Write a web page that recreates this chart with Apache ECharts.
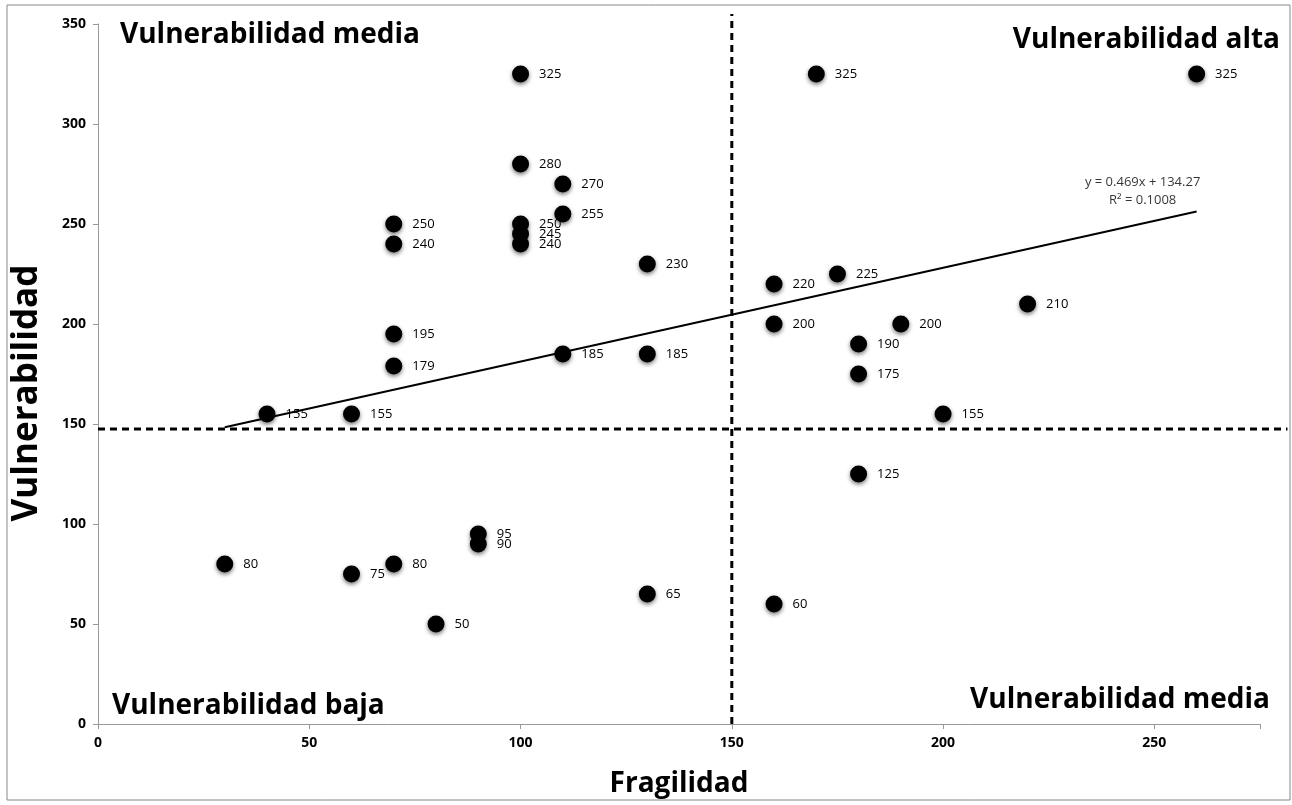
<!DOCTYPE html>
<html><head><meta charset="utf-8">
<script src="https://cdn.jsdelivr.net/npm/echarts@6/dist/echarts.min.js"></script>
<style>html,body{margin:0;padding:0;background:#fff}#c{width:1292px;height:805px}</style>
</head><body><div id="c"></div>
<script>
const fragilidad = [100,170,260,100,110,110,70,100,100,70,100,130,160,175,160,190,220,70,180,70,110,130,180,40,60,200,180,90,90,30,60,70,130,160,80];
const vulnerabilidad = [325,325,325,280,270,255,250,250,245,240,240,230,220,225,200,200,210,195,190,179,185,185,175,155,155,155,125,95,90,80,75,80,65,60,50];
const xTicks = [0,50,100,150,200,250];
const yTicks = [0,50,100,150,200,250,300,350];
const trendSlope = 0.469, trendIntercept = 134.27;
const trendRange = [30,260];
const trendText = 'y = 0.469x + 134.27\nR² = 0.1008';
const splitX = 150, splitY = 147.5;
const quadrantLabels = ['Vulnerabilidad media','Vulnerabilidad alta','Vulnerabilidad baja','Vulnerabilidad media'];
const xTitle = 'Fragilidad', yTitle = 'Vulnerabilidad';

const pts = fragilidad.map((x,i)=>[x,vulnerabilidad[i]]);
const trend = trendRange.map(x=>[x, trendSlope*x+trendIntercept]);
const FONT = '"Open Sans", sans-serif';
const dashStyle = {stroke:'#000',lineWidth:3,lineDash:[7,5]};
const chart = echarts.init(document.getElementById('c'));
chart.setOption({
  animation:false,
  graphic:[
    {type:'rect',shape:{x:7,y:5,width:1283,height:795},style:{fill:'none',stroke:'#888',lineWidth:1},z:-1},
    {type:'text',left:120,top:21,style:{text:quadrantLabels[0],font:'bold 28px '+FONT,fill:'#000'}},
    {type:'text',right:12,top:26,style:{text:quadrantLabels[1],font:'bold 28px '+FONT,fill:'#000'}},
    {type:'text',left:112,top:692,style:{text:quadrantLabels[2],font:'bold 28px '+FONT,fill:'#000'}},
    {type:'text',right:22,top:686,style:{text:quadrantLabels[3],font:'bold 28px '+FONT,fill:'#000'}},
    {type:'text',x:27,y:393,rotation:Math.PI/2,style:{text:yTitle,font:'bold 35px '+FONT,fill:'#000',align:'center',verticalAlign:'middle'}}
  ],
  grid:{left:98,right:32,top:24,bottom:81,containLabel:false},
  xAxis:{type:'value',min:0,max:275,interval:50,name:xTitle,nameLocation:'middle',nameGap:46,
    nameTextStyle:{fontFamily:FONT,fontWeight:'bold',fontSize:28,color:'#000'},
    axisLine:{show:true,lineStyle:{color:'#999'}},axisTick:{show:true,lineStyle:{color:'#999'},length:5},
    splitLine:{show:false},
    axisLabel:{fontFamily:FONT,fontWeight:'bold',fontSize:14,color:'#000',margin:12,
      formatter:v=>xTicks.includes(v)?String(v):''}},
  yAxis:{type:'value',min:0,max:350,interval:50,
    axisLine:{show:true,lineStyle:{color:'#999'}},axisTick:{show:true,lineStyle:{color:'#999'},length:5},
    splitLine:{show:false},
    axisLabel:{fontFamily:FONT,fontWeight:'bold',fontSize:14,color:'#000',margin:12,
      formatter:v=>yTicks.includes(v)?String(v):''}},
  series:[
    {type:'custom',clip:false,silent:true,z:1,data:[[splitX,splitY]],
      renderItem:(params,api)=>{
        const v0=api.coord([splitX,0]), v1=api.coord([splitX,355]);
        const h0=api.coord([0,splitY]), h1=api.coord([281.5,splitY]);
        return {type:'group',children:[
          {type:'line',shape:{x1:v0[0],y1:v0[1],x2:v1[0],y2:v1[1]},style:dashStyle},
          {type:'line',shape:{x1:h0[0],y1:h0[1],x2:h1[0],y2:h1[1]},style:dashStyle}
        ]};
      }},
    {type:'line',data:trend,symbol:'none',silent:true,lineStyle:{color:'#000',width:2},z:2},
    {type:'scatter',data:[trend[1]],symbolSize:0,silent:true,z:2,
      label:{show:true,position:'top',offset:[-54,3],formatter:trendText,align:'center',lineHeight:18,
        fontFamily:FONT,fontSize:13,color:'#000'}},
    {type:'scatter',data:pts,symbol:'circle',symbolSize:17,z:3,
      itemStyle:{color:'#000',opacity:1,shadowBlur:4,shadowColor:'rgba(0,0,0,0.55)',shadowOffsetY:2},
      label:{show:true,position:'right',distance:10,formatter:p=>String(p.value[1]),
        fontFamily:FONT,fontSize:13,color:'#000'}}
  ]
});
</script></body></html>
